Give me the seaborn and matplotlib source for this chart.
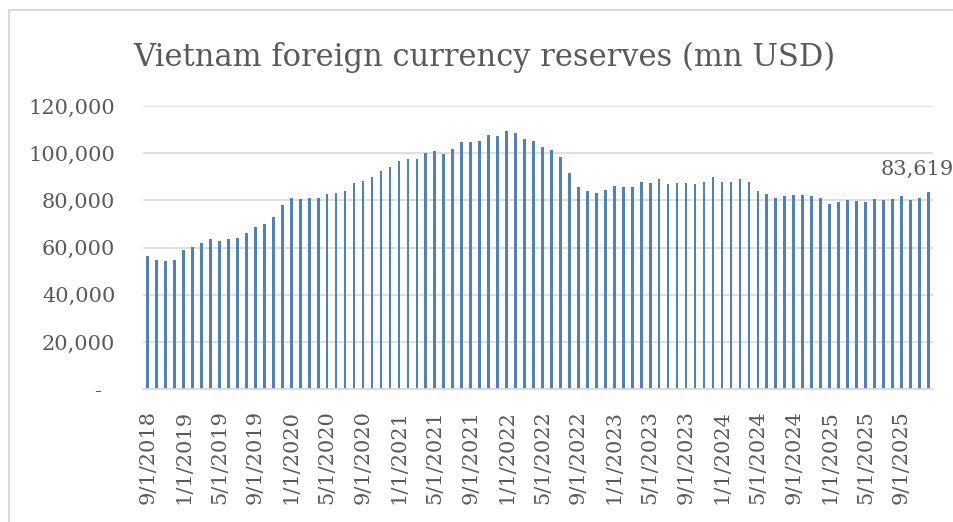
#!/usr/bin/env python3

import numpy as np
import pandas as pd
import matplotlib.pyplot as plt
from matplotlib.lines import Line2D
from matplotlib.ticker import FuncFormatter
import seaborn as sns

# -> DATA (mn USD)

# Monthly observations, Sep 2018 .. Dec 2025
months = pd.date_range('2018-09-01', '2025-12-01', freq='MS')
month_labels = [f"{d.month}/{d.day}/{d.year}" for d in months]

reserves_2018_2021 = [56400, 54600, 54400, 54900, 58800, 60100, 61800, 63600, 63000, 63600,
                      64200, 66100, 68700, 70000, 73200, 77900, 81000, 80500, 81000, 81100,
                      82700, 83100, 83900, 87600, 88200, 89800, 92400, 94200, 96800, 97500]
reserves_2021_2023 = [97700, 100100, 100800, 99700, 101600, 104700, 104900, 105100, 107600, 107100,
                      109300, 108600, 106100, 105100, 102500, 101300, 98300, 91800, 85600, 83900,
                      83100, 84300, 86000, 85500, 85900, 88000, 87300, 89000, 86900]
reserves_2023_2025 = [87300, 87300, 86900, 87700, 90100, 88000, 88000, 88900, 87900, 83900,
                      82700, 81000, 81700, 82100, 82200, 81800, 81000, 78700, 79300, 80400,
                      79800, 79500, 80800, 80100, 80500, 81900, 80100, 81100, 83619]

reserves = reserves_2018_2021 + reserves_2021_2023 + reserves_2023_2025

df = pd.DataFrame({'month': month_labels, 'reserves': reserves})

# -> STYLE
BAR_COLOR = '#4F81BD'
GRID_COLOR = '#D9D9D9'
TEXT_COLOR = '#595959'

sns.set_style('white')
plt.rcParams['font.family'] = ['DejaVu Serif']

# -> PLOT
fig = plt.figure(figsize=(9.54, 5.22), dpi=100)
ax = fig.add_axes([0.1501, 0.2542, 0.8277, 0.5427])

sns.barplot(data=df, x='month', y='reserves', order=month_labels, color=BAR_COLOR,
            saturation=1, width=0.3, linewidth=0, ax=ax)

n = len(reserves)
ax.set_xlim(-0.5, n - 0.5)
ax.set_ylim(0, 120000)

# y axis: gridlines every 20k, Excel-style "-" for zero
ax.set_yticks(np.arange(0, 120001, 20000))
ax.yaxis.set_major_formatter(FuncFormatter(lambda v, p: '-  ' if v == 0 else f"{v:,.0f}"))
ax.yaxis.grid(True, color=GRID_COLOR, linewidth=1.2)
ax.set_axisbelow(True)
ax.tick_params(axis='y', length=0, pad=20, labelsize=15, labelcolor=TEXT_COLOR)

# x axis: tick marks between categories, labels on every 4th month
ax.set_xticks(np.arange(-0.5, n, 4))
ax.set_xticklabels([])
ax.set_xticks(np.arange(0, n, 4), minor=True)
ax.set_xticklabels(month_labels[::4], minor=True, rotation=90)
ax.tick_params(axis='x', which='major', length=6, width=1.2, color=GRID_COLOR)
ax.tick_params(axis='x', which='minor', length=0, pad=15, labelsize=15, labelcolor=TEXT_COLOR)

ax.set_xlabel('')
ax.set_ylabel('')
sns.despine(ax=ax, left=True)
ax.spines['bottom'].set_color(GRID_COLOR)
ax.spines['bottom'].set_linewidth(1.2)

# label on the latest value
last = reserves[-1]
ax.annotate(f"{last:,.0f}", xy=(n - 1, last), xytext=(-11, 17), textcoords='offset pixels',
            ha='center', va='baseline', fontsize=15, color=TEXT_COLOR)

# title
fig.text(0.508, 1 - 66 / 522, 'Vietnam foreign currency reserves (mn USD)',
         ha='center', va='baseline', fontsize=22, color=TEXT_COLOR)

# chart frame (top and left edges visible)
fig.add_artist(Line2D([9.5 / 954, 1], [1 - 9.5 / 522] * 2, color=GRID_COLOR, linewidth=1.5))
fig.add_artist(Line2D([9.5 / 954] * 2, [0, 1 - 9.5 / 522], color=GRID_COLOR, linewidth=1.5))

fig.savefig('out.png', dpi=100)
